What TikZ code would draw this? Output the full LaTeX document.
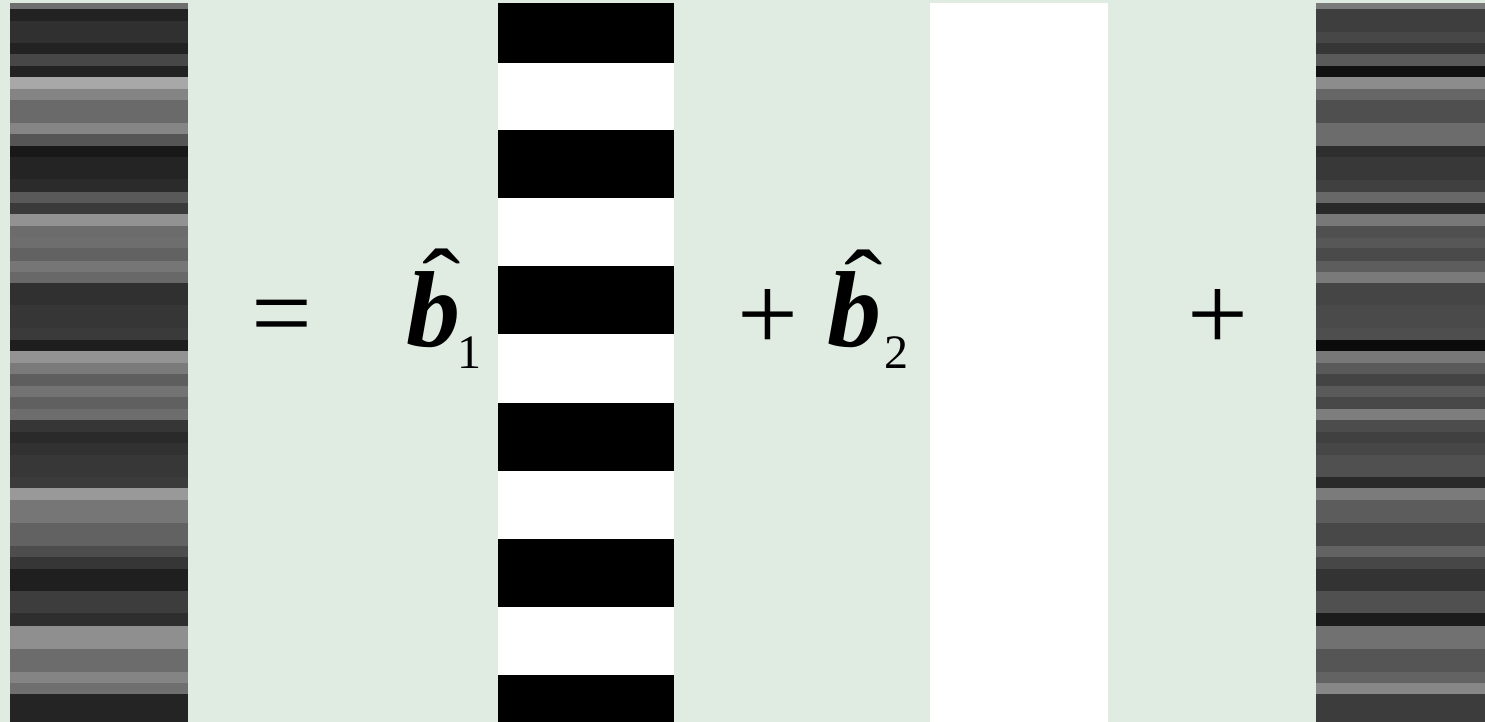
\documentclass[tikz,border=0pt]{standalone}
\usepackage{fontspec}
\setmainfont{Liberation Serif}
\definecolor{bg}{RGB}{224,235,225}
\newcommand{\hatglyph}{\raisebox{-0.5em}[0.18em][0pt]{ˆ}}
\begin{document}
\begin{tikzpicture}[x=0.5pt,y=-0.5pt,
  txt/.style={inner sep=0pt,outer sep=0pt},
  big/.style={txt,font=\fontsize{54}{60}\selectfont},
  hatmark/.style={txt,font=\fontsize{50}{60}\selectfont,xscale=1.15,transform shape},
  sub/.style={txt,font=\fontsize{24}{28}\selectfont},
  bw/.style={fill=black}]
\fill[bg] (0,0) rectangle (1485,722);
\useasboundingbox (0,0) rectangle (1485,722);
% left grey column
\foreach \ya/\yb/\gv in {3/9/111,9/21/34,21/43/48,43/54/34,54/66/71,66/77/34,77/89/168,89/100/132,100/123/106,123/134/133,134/146/85,146/157/24,157/179/36,179/192/43,192/203/89,203/214/58,214/226/146,226/237/108,237/248/110,248/261/98,261/272/118,272/283/104,283/305/48,305/328/54,328/340/58,340/351/30,351/363/147,363/374/122,374/386/94,386/397/115,397/409/96,409/420/109,420/432/54,432/443/42,443/455/49,455/477/55,477/488/59,488/500/153,500/523/118,523/546/98,546/557/77,557/569/54,569/591/31,591/613/61,613/626/46,626/649/143,649/672/108,672/683/132,683/694/111,694/722/36}
  {\definecolor{tmpc}{RGB}{\gv,\gv,\gv}\fill[tmpc] (10,\ya) rectangle (188,\yb);}
% right grey column
\foreach \ya/\yb/\gv in {3/9/122,9/32/62,32/43/71,43/54/54,54/66/90,66/77/17,77/89/140,89/100/102,100/123/79,123/146/108,146/157/46,157/180/56,180/192/64,192/203/104,203/214/41,214/226/120,226/238/80,238/248/87,248/261/74,261/272/93,272/283/122,283/305/69,305/328/74,328/340/78,340/351/11,351/363/120,363/374/90,374/386/68,386/397/90,397/409/72,409/420/126,420/432/76,432/443/64,443/455/71,455/477/80,477/488/42,488/500/123,500/523/92,523/546/72,546/557/99,557/569/71,569/591/51,591/613/80,613/626/28,626/649/113,649/672/85,672/683/99,683/694/135,694/722/60}
  {\definecolor{tmpc}{RGB}{\gv,\gv,\gv}\fill[tmpc] (1316,\ya) rectangle (1485,\yb);}
% black / white column
\fill[white] (498,3) rectangle (674,722);
\foreach \ya/\yb in {3/63,130/198,266/334,403/471,539/607,675/722}
  {\fill[bw] (498,\ya) rectangle (674,\yb);}
% white column
\fill[white] (930,3) rectangle (1108,722);
% formula text
\node[big,anchor=north] (eq) at (282,300) {=};
\node[big,anchor=base west] (b1) at (406,346) {\bfseries\itshape b};
\node[hatmark,anchor=south] (h1) at (442,268) {\hatglyph};
\node[sub,anchor=base west] (s1) at (457,368) {1};
\node[big,anchor=north] (p1) at (768,289) {+};
\node[big,anchor=base west] (b2) at (827,346) {\bfseries\itshape b};
\node[hatmark,anchor=south] (h2) at (864,269) {\hatglyph};
\node[sub,anchor=base west] (s2) at (884,368) {2};
\node[big,anchor=north] (p2) at (1218,289) {+};
\end{tikzpicture}
\end{document}
